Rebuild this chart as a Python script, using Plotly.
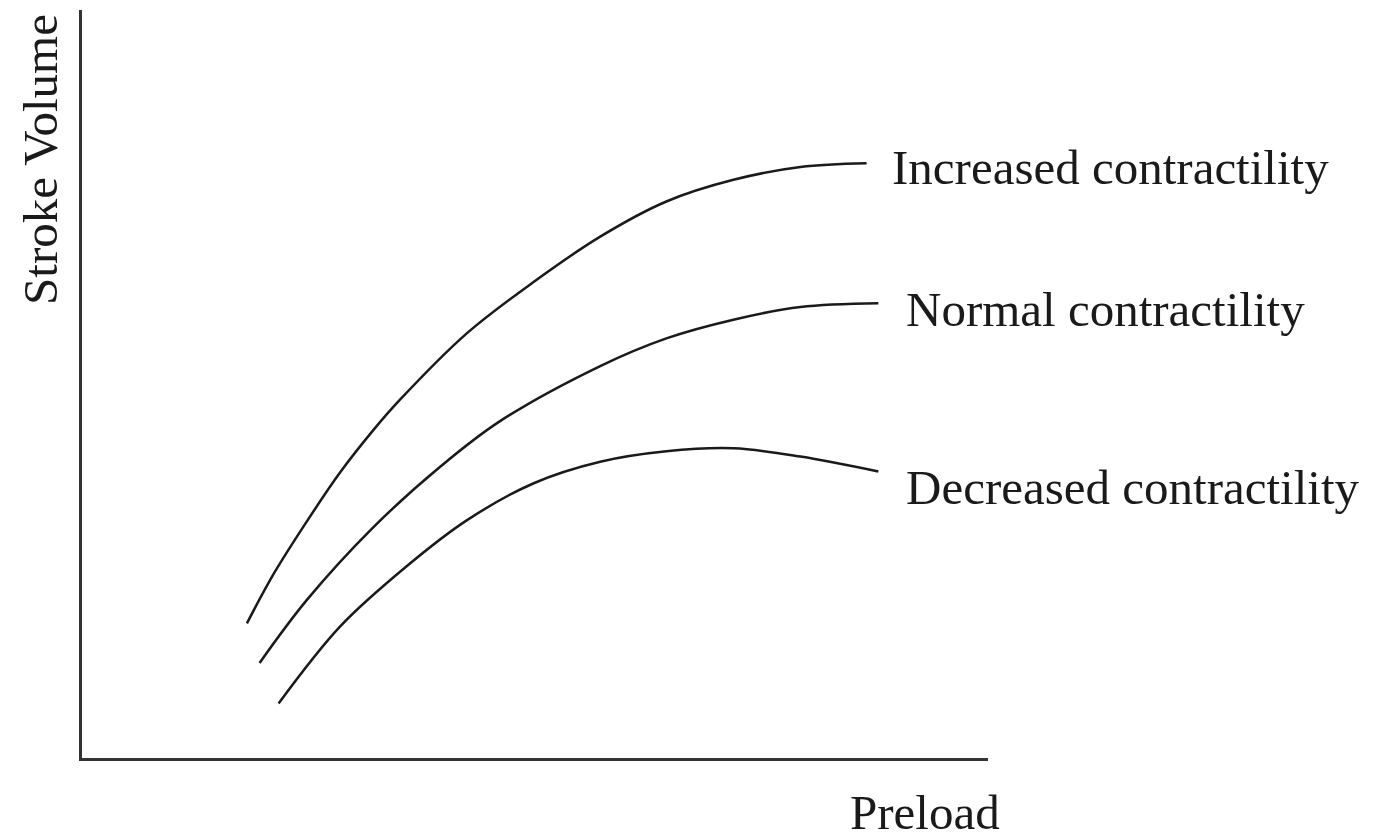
"""
Frank-Starling curves: stroke volume against preload
for three levels of contractility.
"""

import plotly.graph_objects as go

# curve points (arbitrary units, axes 0-100)
increased_x = [18.2, 21.2, 24.8, 28.5, 32.2, 35.1, 42.5, 49.8, 57.2, 64.5, 71.9, 79.3, 86.6]
increased_y = [18.0, 24.7, 31.6, 38.2, 43.9, 47.9, 56.8, 63.6, 69.7, 74.4, 77.3, 79.0, 79.5]

normal_x = [19.6, 24.8, 32.2, 39.5, 46.1, 57.2, 64.5, 71.9, 79.3, 87.9]
normal_y = [12.7, 21.1, 30.9, 38.9, 45.0, 52.4, 56.1, 58.6, 60.3, 60.8]

decreased_x = [21.7, 28.5, 35.8, 42.5, 49.8, 57.2, 64.5, 71.9, 79.3, 87.9]
decreased_y = [7.3, 17.6, 25.6, 31.8, 36.7, 39.6, 41.0, 41.4, 40.3, 38.3]

curve_labels = ["Increased contractility", "Normal contractility", "Decreased contractility"]
label_x = [89.2, 90.7, 90.7]
label_y = [78.9, 59.9, 36.1]

x_title = "Preload"
y_title = "Stroke Volume"

FONT = "Liberation Serif"
TEXT_SIZE = 49
INK = "#1a1a1a"


def build_figure():
    fig = go.Figure()

    series = [
        (increased_x, increased_y),
        (normal_x, normal_y),
        (decreased_x, decreased_y),
    ]
    for (xs, ys), name in zip(series, curve_labels):
        fig.add_trace(go.Scatter(
            x=xs, y=ys, name=name, mode="lines",
            line=dict(color=INK, width=2.5, shape="spline", smoothing=1.0),
            hoverinfo="skip",
        ))

    # curve labels to the right of each line end
    for text, lx, ly in zip(curve_labels, label_x, label_y):
        fig.add_annotation(
            x=lx, y=ly, text=text, showarrow=False,
            xanchor="left", yanchor="middle",
            font=dict(family=FONT, size=TEXT_SIZE, color=INK),
        )

    # axis titles placed by hand, like the drawing
    fig.add_annotation(
        x=93.0, xref="x", y=-0.073, yref="paper", text=x_title,
        showarrow=False, xanchor="center", yanchor="middle",
        font=dict(family=FONT, size=TEXT_SIZE, color=INK),
    )
    fig.add_annotation(
        x=-0.046, xref="paper", y=0.800, yref="paper", text=y_title,
        showarrow=False, textangle=-90, xanchor="center", yanchor="middle",
        font=dict(family=FONT, size=TEXT_SIZE, color=INK),
    )

    axis_style = dict(
        range=[0, 100], showgrid=False, zeroline=False,
        showticklabels=False, ticks="", showline=True,
        linecolor="#333333", linewidth=3, mirror=False, fixedrange=True,
    )
    fig.update_xaxes(**axis_style)
    fig.update_yaxes(**axis_style)

    # page body adds an 8px margin, so the margins are shifted to compensate
    fig.update_layout(
        width=1379, height=839,
        margin=dict(l=74, r=399, t=2, b=89),
        paper_bgcolor="white", plot_bgcolor="white",
        showlegend=False,
        font=dict(family=FONT),
    )
    return fig


if __name__ == "__main__":
    fig = build_figure()
    fig.write_html("out.html")
